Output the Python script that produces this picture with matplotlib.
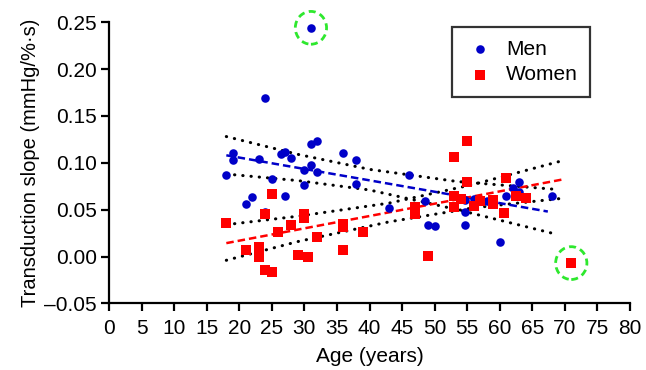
import numpy as np
import matplotlib
matplotlib.use('Agg')
import matplotlib.pyplot as plt
from matplotlib.patches import Ellipse

plt.rcParams['font.family'] = ['Liberation Sans', 'DejaVu Sans']

# men (blue circles)
men_age = [18, 19, 19, 21, 22, 23, 24, 24, 25, 26.4, 27, 27, 28, 30, 30, 31, 31, 31, 32, 32,
           36, 38, 38, 43, 46, 48.5, 49, 50, 54.7, 54.7, 54.7, 56, 58, 59, 60, 61, 62, 63, 63, 68]
men_val = [0.087, 0.110, 0.103, 0.056, 0.064, 0.104, 0.169, 0.048, 0.083, 0.109, 0.111, 0.065,
           0.105, 0.092, 0.076, 0.120, 0.098, 0.244, 0.123, 0.090, 0.110, 0.103, 0.077, 0.052,
           0.087, 0.059, 0.034, 0.033, 0.060, 0.047, 0.034, 0.061, 0.059, 0.060, 0.015, 0.065,
           0.073, 0.080, 0.069, 0.065]

# women (red squares)
women_age = [18, 21, 23, 23, 24, 25, 24, 25, 26, 28, 29, 30, 30, 30.6, 32, 36, 36, 36, 39,
             47, 47, 49, 53, 53, 53, 54, 55, 55, 56, 57, 59, 59, 60.7, 61, 62.5, 64, 71]
women_val = [0.036, 0.007, 0.010, 0.000, -0.014, -0.016, 0.045, 0.067, 0.026, 0.034, 0.002,
             0.045, 0.041, 0.000, 0.021, 0.035, 0.032, 0.007, 0.026, 0.053, 0.045, 0.001,
             0.106, 0.065, 0.053, 0.061, 0.123, 0.080, 0.054, 0.059, 0.060, 0.056, 0.046,
             0.084, 0.065, 0.062, -0.007]

# regression lines and 95% bands
men_fit_age = [18, 67.4]
men_fit = [0.108, 0.048]
men_band_age = [18, 29, 40, 53.5, 68]
men_upper = [0.128, 0.109, 0.093, 0.080, 0.072]
men_lower = [0.088, 0.081, 0.071, 0.050, 0.025]

women_fit_age = [18, 69.5]
women_fit = [0.0143, 0.082]
women_band_age = [18, 29, 43, 56, 69.5]
women_upper = [0.034, 0.043, 0.057, 0.077, 0.102]
women_lower = [-0.004, 0.016, 0.037, 0.052, 0.062]

# circled outliers
outliers = [(31, 0.244), (71, -0.007)]

blue = '#0000C8'
red = '#FF0000'
green = '#2EE82E'

fig = plt.figure(figsize=(6.46, 3.70), dpi=100)
ax = fig.add_axes([0.169, 0.180, 0.806, 0.760])

dot = (0, (0.1, 2.6))
for a, v in [(men_band_age, men_upper), (men_band_age, men_lower),
             (women_band_age, women_upper), (women_band_age, women_lower)]:
    ax.plot(a, v, color='black', lw=2.2, linestyle=dot, dash_capstyle='round', zorder=2)

ax.plot(men_fit_age, men_fit, color=blue, lw=1.8, linestyle=(0, (3, 1.6)), zorder=3)
ax.plot(women_fit_age, women_fit, color=red, lw=1.8, linestyle=(0, (3, 1.6)), zorder=3)

ax.scatter(men_age, men_val, s=38, color=blue, marker='o', linewidths=0, zorder=4, label='Men')
ax.scatter(women_age, women_val, s=42, color=red, marker='s', linewidths=0, zorder=4, label='Women')

for x, y in outliers:
    e = Ellipse((x, y), width=4.8, height=0.035, fill=False, edgecolor=green,
                lw=2.0, linestyle=(0, (2.5, 1.6)), clip_on=False, zorder=5)
    ax.add_patch(e)

ax.set_xlim(0, 80)
ax.set_ylim(-0.05, 0.25)
ax.set_xticks(np.arange(0, 81, 5))
ax.set_yticks(np.arange(-0.05, 0.251, 0.05))
ax.yaxis.set_major_formatter(matplotlib.ticker.FuncFormatter(
    lambda v, p: ('%.2f' % v).replace('-', '\u2013')))
ax.spines['top'].set_visible(False)
ax.spines['right'].set_visible(False)
for s in ['left', 'bottom']:
    ax.spines[s].set_linewidth(1.6)
ax.tick_params(direction='out', length=6, width=1.6, labelsize=15, pad=3)
ax.tick_params(axis='x', pad=5)

ax.set_xlabel('Age (years)', fontsize=15, labelpad=7)
ax.set_ylabel('Transduction slope (mmHg/%·s)', fontsize=14.5, labelpad=3)

leg = ax.legend(loc='upper right', bbox_to_anchor=(0.924, 0.982), borderaxespad=0,
                fontsize=15, frameon=True, fancybox=False, handletextpad=0.5,
                borderpad=0.6, labelspacing=0.3, handlelength=1.5, scatterpoints=1)
leg.get_frame().set_edgecolor('black')
leg.get_frame().set_linewidth(1.6)

fig.savefig('out.png', dpi=100)
